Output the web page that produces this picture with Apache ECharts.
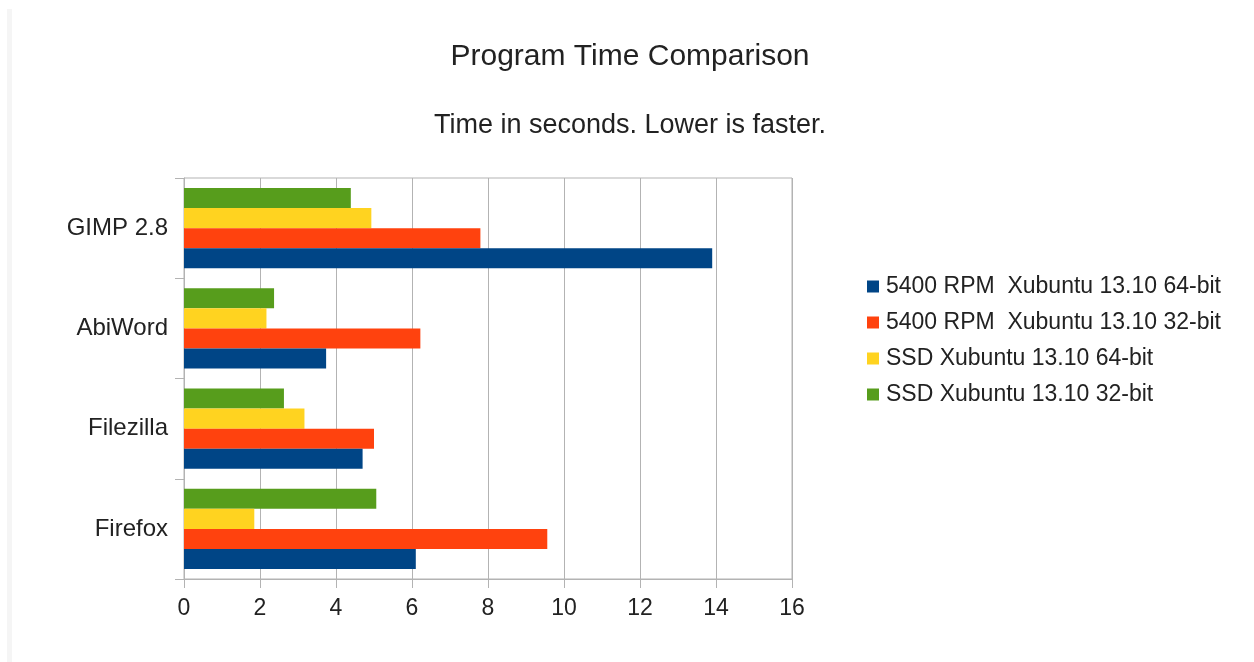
<!DOCTYPE html>
<html>
<head>
<meta charset="utf-8">
<title>Program Time Comparison</title>
<script src="https://cdn.jsdelivr.net/npm/echarts@6/dist/echarts.min.js"></script>
<style>
  html, body { margin: 0; padding: 0; background: #fff; }
  #chart { width: 1254px; height: 662px; }
</style>
</head>
<body>
<div id="chart"></div>
<script>
// categories, top to bottom
var programs = ['GIMP 2.8', 'AbiWord', 'Filezilla', 'Firefox'];
var seriesNames = [
  '5400 RPM  Xubuntu 13.10 64-bit',
  '5400 RPM  Xubuntu 13.10 32-bit',
  'SSD Xubuntu 13.10 64-bit',
  'SSD Xubuntu 13.10 32-bit'
];
// seconds, same order as programs
var hdd64 = [13.9, 3.74, 4.7, 6.1];
var hdd32 = [7.8, 6.22, 5.0, 9.56];
var ssd64 = [4.93, 2.17, 3.17, 1.85];
var ssd32 = [4.39, 2.37, 2.63, 5.06];
var xTicks = [0, 2, 4, 6, 8, 10, 12, 14, 16];

var colors = ['#004586', '#ff420e', '#ffd320', '#579d1c'];
var font = '"Liberation Sans", Arial, sans-serif';
var gridColor = '#b3b3b3';

var makeSeries = function (i, data) {
  return {
    name: seriesNames[i],
    type: 'bar',
    data: data,
    barGap: '0%',
    barCategoryGap: '20%',
    itemStyle: { color: colors[i] },
    emphasis: { disabled: true }
  };
};

var option = {
  animation: false,
  backgroundColor: '#fff',
  textStyle: { fontFamily: font },
  title: [
    {
      text: 'Program Time Comparison',
      left: 625, top: 37, textAlign: 'center',
      textStyle: { fontSize: 30, fontWeight: 'normal', color: '#222', fontFamily: font }
    },
    {
      text: 'Time in seconds. Lower is faster.',
      left: 625, top: 107, textAlign: 'center',
      textStyle: { fontSize: 27, fontWeight: 'normal', color: '#222', fontFamily: font }
    }
  ],
  // faint frame edge on the left of the original screenshot
  graphic: [{
    type: 'rect', left: 7, top: 9,
    shape: { width: 5, height: 653 },
    style: { fill: '#f5f5f5' }, silent: true
  }],
  legend: {
    orient: 'vertical',
    left: 862,
    top: 270,
    itemWidth: 12,
    itemHeight: 12,
    itemGap: 13,
    icon: 'rect',
    data: seriesNames,
    textStyle: { fontSize: 23, color: '#222', fontFamily: font, padding: [0, 0, 0, 2] }
  },
  grid: {
    left: 184, right: 462, top: 178, bottom: 83,
    show: true, borderColor: gridColor, borderWidth: 1
  },
  xAxis: {
    type: 'value',
    min: 0, max: 16, interval: 2,
    axisLine: { show: true, lineStyle: { color: gridColor } },
    axisTick: { show: true, length: 9, lineStyle: { color: gridColor } },
    splitLine: { show: true, lineStyle: { color: gridColor } },
    axisLabel: {
      fontSize: 23, color: '#222', margin: 18, fontFamily: font,
      formatter: function (v) { return xTicks.indexOf(v) >= 0 ? String(v) : ''; }
    }
  },
  yAxis: {
    type: 'category',
    inverse: true,
    data: programs,
    axisLine: { show: true, lineStyle: { color: gridColor } },
    axisTick: { show: true, length: 9, lineStyle: { color: gridColor } },
    axisLabel: { fontSize: 24, color: '#222', margin: 16, fontFamily: font }
  },
  series: [
    makeSeries(3, ssd32),
    makeSeries(2, ssd64),
    makeSeries(1, hdd32),
    makeSeries(0, hdd64)
  ]
};

var myChart = echarts.init(document.getElementById('chart'));
myChart.setOption(option);
</script>
</body>
</html>
